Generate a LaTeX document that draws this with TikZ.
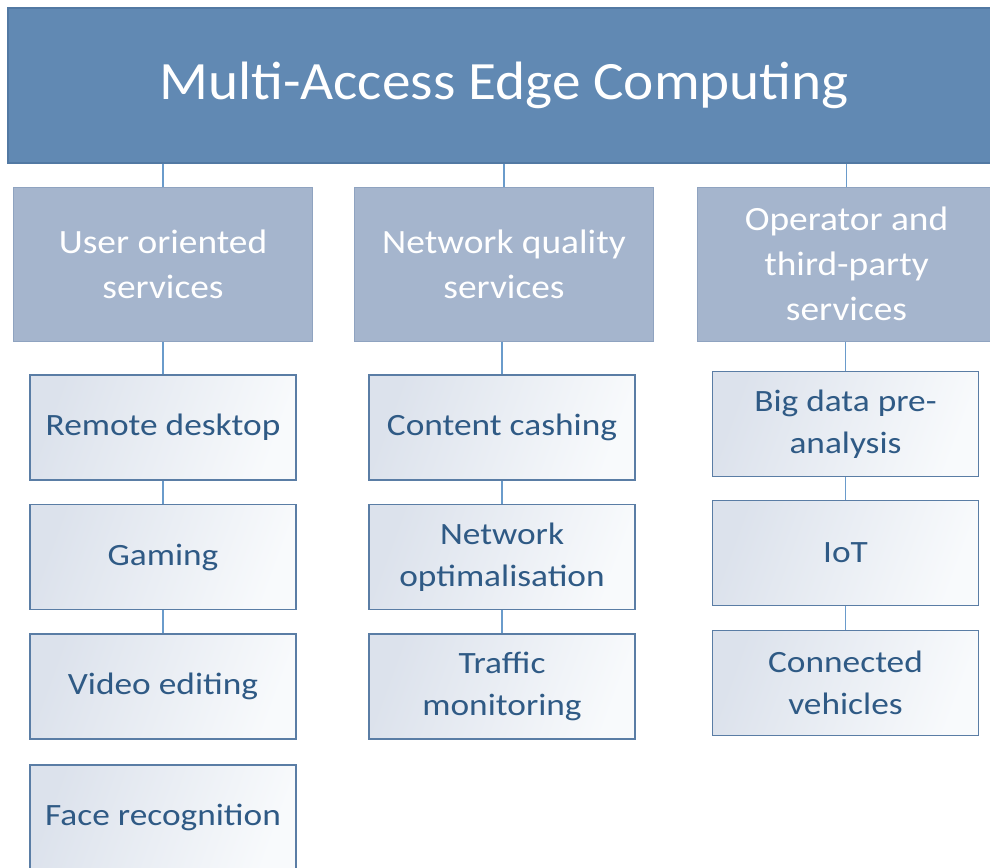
\documentclass[tikz,border=0pt]{standalone}
\usepackage{fontspec}
\setmainfont{Carlito}
\newfontfamily\titlefont[FakeStretch=1.06]{Carlito}
\newfontfamily\groupfont[FakeStretch=1.1]{Carlito}
\newfontfamily\leaffont[FakeStretch=1.14]{Carlito}
\definecolor{topfill}{HTML}{6189B3}
\definecolor{topline}{HTML}{5279A3}
\definecolor{midfill}{HTML}{A5B5CD}
\definecolor{midline}{HTML}{8FA3C0}
\definecolor{leafA}{HTML}{DCE2EC}
\definecolor{leafB}{HTML}{F8FAFC}
\definecolor{leafline}{HTML}{5A7DA5}
\definecolor{leaftext}{HTML}{2F5A85}
\definecolor{wirecol}{HTML}{6A9BCB}
\begin{document}
\begin{tikzpicture}[x=1pt,y=-1pt,
  topbox/.style={draw=topline, line width=1.2pt, fill=topfill,
    minimum width=992pt, minimum height=155pt, inner sep=0pt,
    text=white, font=\titlefont\fontsize{54}{64}\selectfont},
  groupbox/.style={draw=midline, line width=1pt, fill=midfill,
    minimum width=299pt, minimum height=154pt, inner sep=0pt,
    text=white, align=center, font=\groupfont\fontsize{34}{45}\selectfont},
  leafbox/.style={draw=leafline, line width=1.3pt,
    left color=leafA, right color=leafB, shading angle=70,
    minimum width=266pt, minimum height=105pt, inner sep=0pt,
    text=leaftext, align=center, font=\leaffont\fontsize{31}{42}\selectfont},
  link/.style={draw=wirecol, line width=1.6pt}]
\useasboundingbox (0,0) rectangle (990,867);
\fill[white] (0,0) rectangle (990,867);

% root
\node[topbox] (mec) at (504,85.5) {Multi-Access Edge Computing};

% service groups
\node[groupbox] (user) at (163,264) {User oriented\\services};
\node[groupbox] (net)  at (504,264) {Network quality\\services};
\node[groupbox] (oper) at (846.5,264) {Operator and\\third-party\\services};

% user oriented services
\node[leafbox] (rd)   at (163,427.5) {Remote desktop};
\node[leafbox] (game) at (163,557)   {Gaming};
\node[leafbox] (vid)  at (163,686.5) {Video editing};
\node[leafbox] (face) at (163,817.5) {Face recognition};

% network quality services
\node[leafbox] (cc)   at (502,427.5) {Content cashing};
\node[leafbox] (nopt) at (502,557)   {Network\\optimalisation};
\node[leafbox] (traf) at (502,686.5) {Traffic\\monitoring};

% operator and third-party services
\node[leafbox] (big)  at (845.5,424) {Big data pre-\\analysis};
\node[leafbox] (iot)  at (845.5,553) {IoT};
\node[leafbox] (veh)  at (845.5,683) {Connected\\vehicles};

% connectors
\draw[link] (mec.south -| user.north) -- (user.north);
\draw[link] (mec.south -| net.north) -- (net.north);
\draw[link] (mec.south -| oper.north) -- (oper.north);

\draw[link] (user.south -| rd.north) -- (rd.north);
\draw[link] (rd) -- (game);
\draw[link] (game) -- (vid);

\draw[link] (net.south -| cc.north) -- (cc.north);
\draw[link] (cc) -- (nopt);
\draw[link] (nopt) -- (traf);

\draw[link] (oper.south -| big.north) -- (big.north);
\draw[link] (big) -- (iot);
\draw[link] (iot) -- (veh);
\end{tikzpicture}
\end{document}
